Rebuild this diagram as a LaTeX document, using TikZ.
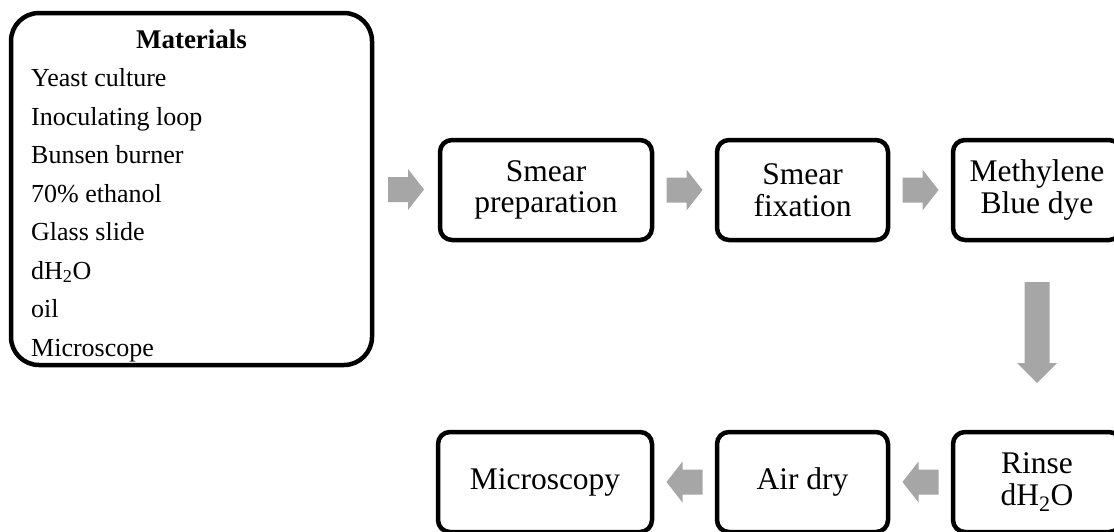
\documentclass[tikz,border=0pt]{standalone}
\usepackage{fontspec}
\setmainfont{Liberation Serif}
\usetikzlibrary{calc}
\begin{document}
\begin{tikzpicture}[x=1pt,y=-1pt,
  stepbox/.style={draw, line width=4.5pt, rounded corners=12pt, inner sep=0pt, align=center,
    minimum height=100pt, font=\fontsize{31.5}{31.5}\selectfont},
  matbox/.style={draw, line width=4.5pt, rounded corners=28pt, inner sep=0pt,
    minimum width=361pt, minimum height=352pt},
  itemtext/.style={anchor=base west, inner sep=0pt, font=\fontsize{26}{26}\selectfont},
  rarrowpic/.pic={\fill[black!35] (-18,-12.5) -- (2,-12.5) -- (2,-20.5) -- (18,0) -- (2,20.5) -- (2,12.5) -- (-18,12.5) -- cycle;},
  larrowpic/.pic={\fill[black!35] (18,-12.5) -- (-2,-12.5) -- (-2,-20.5) -- (-18,0) -- (-2,20.5) -- (-2,12.5) -- (18,12.5) -- cycle;},
  darrowpic/.pic={\fill[black!35] (-12.5,-54) -- (12.5,-54) -- (12.5,27) -- (20,27) -- (0,47) -- (-20,27) -- (-12.5,27) -- (-12.5,-54) -- cycle;}
]
\useasboundingbox (0,0) rectangle (1114,531);
\clip (0,0) rectangle (1114,531);

% Materials box
\node[matbox] (mat) at (191.5,189) {};
\node[anchor=base, inner sep=0pt, font=\bfseries\fontsize{27}{27}\selectfont] (mattitle) at (191.5,48) {Materials};
\foreach \t [count=\i] in {Yeast culture, Inoculating loop, Bunsen burner, 70\% ethanol, Glass slide, {dH\textsubscript{2}O}, oil, Microscope}
  \node[itemtext] (item\i) at (31,{48+38.5*\i}) {\t};

% Step boxes
\node[stepbox, minimum width=212pt] (prep) at (546,190) {Smear\\preparation};
\node[stepbox, minimum width=171pt] (fix) at (802.5,190) {Smear\\fixation};
\node[stepbox, minimum width=168pt] (dye) at (1037,190) {Methylene\\Blue dye};
\node[stepbox, minimum width=168pt] (rinse) at (1037,482) {Rinse\\dH\textsubscript{2}O};
\node[stepbox, minimum width=171pt] (dry) at (802.5,482) {Air dry};
\node[stepbox, minimum width=214pt] (micro) at (545,482) {Microscopy};

% Block arrows
\pic at ($(mat.east)!0.5!(prep.west)$) {rarrowpic};
\pic at ($(prep.east)!0.5!(fix.west)$) {rarrowpic};
\pic at ($(fix.east)!0.5!(dye.west)$) {rarrowpic};
\pic at ($(dye.south)!0.5!(rinse.north)$) {darrowpic};
\pic at ($(rinse.west)!0.5!(dry.east)$) {larrowpic};
\pic at ($(dry.west)!0.5!(micro.east)$) {larrowpic};
\end{tikzpicture}
\end{document}
